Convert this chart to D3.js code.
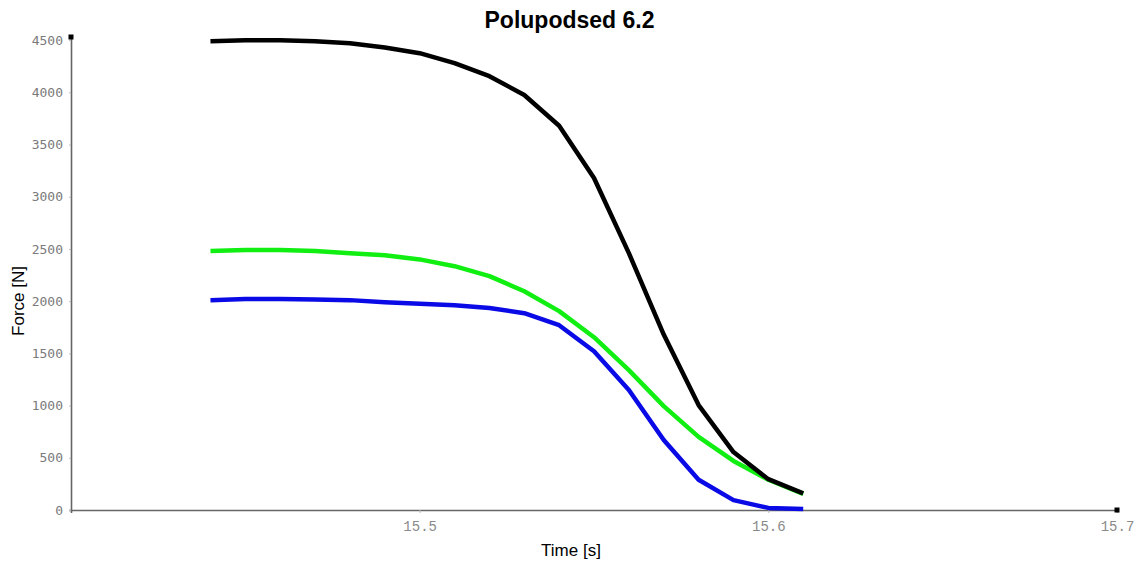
<!DOCTYPE html>
<html>
<head>
<meta charset="utf-8">
<script src="https://cdn.jsdelivr.net/npm/d3@7"></script>
<style>
  body { margin: 0; background: #fff; }
</style>
</head>
<body>
<div id="chart"></div>
<script>
// data
var times = [15.44, 15.45, 15.46, 15.47, 15.48, 15.49, 15.50, 15.51, 15.52,
             15.53, 15.54, 15.55, 15.56, 15.57, 15.58, 15.59, 15.60, 15.61];
var forceBlack = [4490, 4500, 4500, 4490, 4470, 4430, 4375, 4280, 4155,
                  3975, 3680, 3180, 2460, 1680, 1005, 555, 295, 160];
var forceGreen = [2480, 2490, 2490, 2480, 2460, 2440, 2400, 2335, 2240,
                  2095, 1905, 1655, 1340, 995, 700, 470, 290, 155];
var forceBlue = [2010, 2020, 2020, 2015, 2010, 1990, 1975, 1960, 1935,
                 1885, 1770, 1520, 1150, 670, 290, 95, 20, 10];
var xTicks = [15.5, 15.6, 15.7];
var yTicks = [0, 500, 1000, 1500, 2000, 2500, 3000, 3500, 4000, 4500];
var xDomain = [15.4, 15.7];
var yDomain = [0, 4530];

var svgWidth = 1139;
var svgHeight = 563;

var margin = { top: 37, right: 22, bottom: 53, left: 71 };
var width = svgWidth - margin.left - margin.right;
var height = svgHeight - margin.top - margin.bottom;

var svg = d3.select("#chart")
  .append("svg")
  .attr("width", svgWidth)
  .attr("height", svgHeight);

var chartGroup = svg.append("g")
  .attr("transform", `translate(${margin.left}, ${margin.top})`);

var xScale = d3.scaleLinear().domain(xDomain).range([0, width]);
var yScale = d3.scaleLinear().domain(yDomain).range([height, 0]);

var xAxis = d3.axisBottom(xScale).tickValues(xTicks).tickSize(3).tickPadding(8)
  .tickFormat(d3.format(".1f"));
var yAxis = d3.axisLeft(yScale).tickValues(yTicks).tickSize(2).tickPadding(6)
  .tickFormat(d3.format("d"));

var xg = chartGroup.append("g")
  .attr("transform", `translate(0, ${height})`)
  .call(xAxis);
xg.selectAll("text")
  .attr("font-family", "Liberation Mono, monospace")
  .attr("font-size", 14)
  .attr("fill", "#8a8a8a");

var yg = chartGroup.append("g").call(yAxis);
yg.selectAll("text")
  .attr("font-family", "DejaVu Sans Mono, monospace")
  .attr("font-size", 13)
  .attr("fill", "#7a7a7a");

[xg, yg].forEach(function(g) {
  g.select(".domain").attr("stroke", "#666").attr("stroke-width", 1.6);
  g.selectAll(".tick line").attr("stroke", "#bbb");
});

// end markers on the axes
chartGroup.append("rect")
  .attr("x", -2.5).attr("y", yScale(yDomain[1]) - 2.5)
  .attr("width", 5).attr("height", 5).attr("fill", "#000");
chartGroup.append("rect")
  .attr("x", xScale(xDomain[1]) - 2.5).attr("y", height - 2.5)
  .attr("width", 5).attr("height", 5).attr("fill", "#000");

var series = [
  { values: forceBlack, color: "#000000" },
  { values: forceGreen, color: "#11ee11" },
  { values: forceBlue, color: "#0a0ae6" }
];

var line = d3.line()
  .x(function(d, i) { return xScale(times[i]); })
  .y(function(d) { return yScale(d); });

// draw blue first, black on top
[series[2], series[1], series[0]].forEach(function(s) {
  chartGroup.append("path")
    .datum(s.values)
    .attr("d", line)
    .attr("fill", "none")
    .attr("stroke", s.color)
    .attr("stroke-width", 4.5)
    .attr("stroke-linejoin", "round");
});

svg.append("text")
  .attr("x", svgWidth / 2)
  .attr("y", 28)
  .attr("text-anchor", "middle")
  .attr("font-family", "Liberation Sans, Arial, sans-serif")
  .attr("font-weight", "bold")
  .attr("font-size", 23)
  .text("Polupodsed 6.2");

svg.append("text")
  .attr("x", 571)
  .attr("y", 556)
  .attr("text-anchor", "middle")
  .attr("font-family", "Liberation Sans, Arial, sans-serif")
  .attr("font-size", 17)
  .text("Time [s]");

svg.append("text")
  .attr("transform", "translate(24, 301) rotate(-90)")
  .attr("text-anchor", "middle")
  .attr("font-family", "Liberation Sans, Arial, sans-serif")
  .attr("font-size", 17)
  .text("Force [N]");
</script>
</body>
</html>
